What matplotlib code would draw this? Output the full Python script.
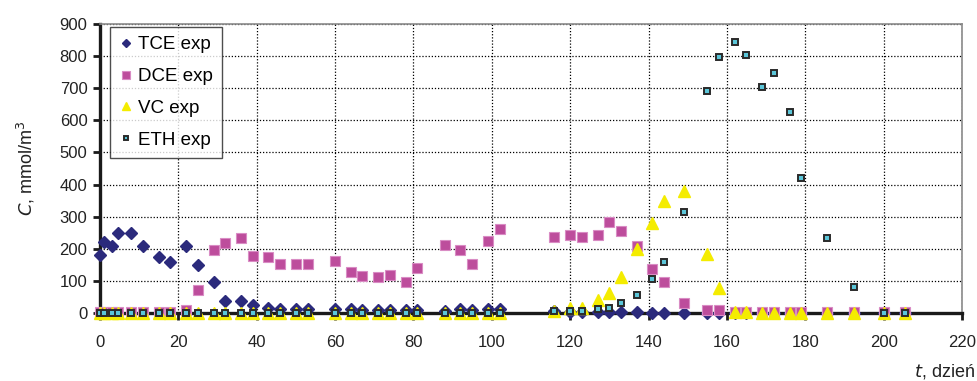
import numpy as np
import matplotlib
matplotlib.use("Agg")
import matplotlib.pyplot as plt

plt.rcParams['font.family'] = ['Liberation Sans', 'DejaVu Sans']

# Sampling times, days
t_days = [0, 1, 3, 4.5, 8, 11, 15, 18, 22, 25, 29, 32, 36, 39, 43, 46, 50, 53,
          60, 64, 67, 71, 74, 78, 81, 88, 92, 95, 99, 102,
          116, 120, 123, 127, 130, 133, 137, 141, 144, 149, 155, 158,
          162, 165, 169, 172, 176, 179, 185.5, 192.5, 200, 205.5]

# Measured concentrations, mmol/m3
tce = [180, 220, 210, 248, 248, 210, 175, 158, 210, 148, 98, 38, 38, 24, 17, 13, 13, 13,
       12, 12, 10, 10, 10, 10, 10, 5, 12, 10, 12, 12,
       5, 3, 3, 2, 2, 2, 2, 0, 0, 0, 0, 0,
       0, 0, 0, 0, 0, 0, 0, 0, 0, 0]
dce = [3, 3, 3, 3, 3, 3, 3, 3, 8, 72, 195, 218, 235, 178, 173, 153, 153, 153,
       162, 127, 115, 113, 117, 97, 141, 213, 197, 153, 223, 261,
       238, 244, 238, 244, 282, 254, 209, 138, 97, 30, 10, 8,
       3, 3, 3, 3, 3, 3, 3, 3, 3, 3]
vc = [0, 0, 0, 0, 0, 0, 0, 0, 0, 0, 0, 0, 0, 0, 0, 0, 0, 0,
      0, 0, 0, 0, 0, 0, 0, 0, 0, 0, 0, 0,
      5, 15, 15, 40, 63, 111, 198, 279, 350, 381, 183, 77,
      3, 3, 0, 0, 0, 0, 0, 0, 0, 0]
eth = [0, 0, 0, 0, 0, 0, 0, 0, 0, 0, 0, 0, 0, 0, 0, 0, 0, 0,
       0, 0, 0, 0, 0, 0, 0, 0, 0, 0, 0, 0,
       5, 6, 6, 11, 15, 31, 56, 107, 158, 314, 690, 796,
       844, 802, 705, 746, 625, 421, 234, 82, 0, 0]

x_ticks = [0, 20, 40, 60, 80, 100, 120, 140, 160, 180, 200, 220]
y_ticks = [0, 100, 200, 300, 400, 500, 600, 700, 800, 900]

fig = plt.figure(figsize=(9.78, 3.81), dpi=100)
ax = fig.add_axes([0.1022, 0.1785, 0.8814, 0.7585])

ax.plot(t_days, tce, linestyle='none', marker='D', ms=6.0, color='#2B2A7C',
        mec='#2B2A7C', label='TCE exp', clip_on=False, zorder=3)
ax.plot(t_days, dce, linestyle='none', marker='s', ms=7.4, color='#BD4D9C',
        mec='#D98CC4', mew=0.8, label='DCE exp', clip_on=False, zorder=4)
ax.plot(t_days, vc, linestyle='none', marker='^', ms=8.2, color='#F4EC00',
        mec='#F4EC00', label='VC exp', clip_on=False, zorder=5)
ax.plot(t_days, eth, linestyle='none', marker='s', ms=4.6, color='#5BC6D9',
        mec='#2A2A2A', mew=1.4, label='ETH exp', clip_on=False, zorder=6)

ax.set_xlim(0, 220)
ax.set_ylim(0, 900)
ax.set_xticks(x_ticks)
ax.set_yticks(y_ticks)

ax.grid(True, which='major', color='black', linestyle=(0, (1, 1.5)), linewidth=0.9)
ax.set_axisbelow(True)

for side in ('left', 'bottom'):
    ax.spines[side].set_linewidth(2.4)
    ax.spines[side].set_color('#1a1a1a')
for side in ('top', 'right'):
    ax.spines[side].set_linewidth(1.2)
    ax.spines[side].set_color('#8a8a8a')

ax.tick_params(axis='both', direction='out', length=5, width=2, color='#1a1a1a',
               labelsize=12, labelcolor='#222222')
ax.tick_params(axis='x', pad=11)
ax.tick_params(axis='y', pad=4)

ax.set_ylabel(r'$\mathit{C}$, mmol/m$^3$', fontsize=13, color='#222222', labelpad=16)
fig.text(0.997, 0.012, r'$\mathit{t}$, dzień', ha='right', va='baseline',
         fontsize=13, color='#222222')

leg = ax.legend(loc='upper left', bbox_to_anchor=(0.0116, 0.99), fontsize=13.5,
                frameon=True, fancybox=False, shadow=False, markerscale=0.75,
                handletextpad=0.3, labelspacing=0.78, borderpad=0.5,
                handlelength=0.7, borderaxespad=0.0)
leg.get_frame().set_edgecolor('#222222')
leg.get_frame().set_linewidth(1.0)
leg.set_zorder(10)

fig.savefig('out.png', dpi=100)
